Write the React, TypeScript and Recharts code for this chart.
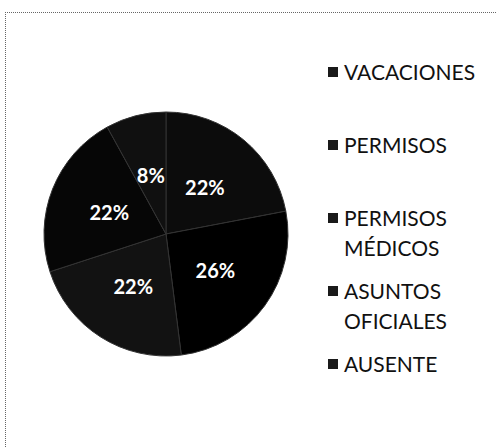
import { PieChart, Pie, Cell, Legend } from "recharts";

const categories = ["VACACIONES", "PERMISOS", "PERMISOS MÉDICOS", "ASUNTOS OFICIALES", "AUSENTE"];
const values = [22, 26, 22, 22, 8];
const legendLines = [["VACACIONES"], ["PERMISOS"], ["PERMISOS", "MÉDICOS"], ["ASUNTOS", "OFICIALES"], ["AUSENTE"]];
const colors = ["#0c0c0c", "#000000", "#121212", "#060606", "#101010"];

const data = categories.map((name, i) => ({ name, value: values[i] }));
const RAD = Math.PI / 180;

function PctLabel(props: any) {
  const { cx, cy, midAngle, outerRadius, percent } = props;
  const r = outerRadius * 0.5;
  const x = cx + r * Math.cos(-midAngle * RAD);
  const y = cy + r * Math.sin(-midAngle * RAD);
  return (
    <text x={x} y={y} fill="#fff" textAnchor="middle" dominantBaseline="central"
      style={{ fontFamily: "Lato, sans-serif", fontSize: 20, fontWeight: 700 }}>
      {`${Math.round(percent * 100)}%`}
    </text>
  );
}

function LegendList() {
  return (
    <div style={{ position: "relative", width: 165, height: 320, fontFamily: "Lato, sans-serif", fontSize: 21, color: "#111" }}>
      {legendLines.map((lines, i) => (
        <div key={i} style={{ position: "absolute", left: 0, top: i * 73, lineHeight: "30px" }}>
          <span style={{ position: "absolute", left: 0, top: 10, width: 10, height: 10, background: "#1a1a1a" }} />
          {lines.map((t, j) => (
            <div key={j} style={{ paddingLeft: 16, whiteSpace: "nowrap" }}>{t}</div>
          ))}
        </div>
      ))}
    </div>
  );
}

export default function App() {
  return (
    <div style={{ position: "absolute", left: 0, top: 0, width: 497, height: 448, background: "#fff", overflow: "hidden" }}>
      <div style={{ position: "absolute", left: 5, top: 12, width: 500, height: 440, borderTop: "1px dotted #666", borderLeft: "1px dotted #666" }} />
      <PieChart width={497} height={448}>
        <Pie
          data={data}
          dataKey="value"
          nameKey="name"
          cx={161}
          cy={229}
          outerRadius={122}
          startAngle={90}
          endAngle={-270}
          stroke="#333"
          strokeWidth={1}
          labelLine={false}
          label={PctLabel}
          isAnimationActive={false}
        >
          {data.map((d, i) => (
            <Cell key={d.name} fill={colors[i]} />
          ))}
        </Pie>
        <Legend
          layout="vertical"
          align="right"
          verticalAlign="top"
          content={() => <LegendList />}
          wrapperStyle={{ left: 328, top: 57, width: 169 }}
        />
      </PieChart>
    </div>
  );
}
